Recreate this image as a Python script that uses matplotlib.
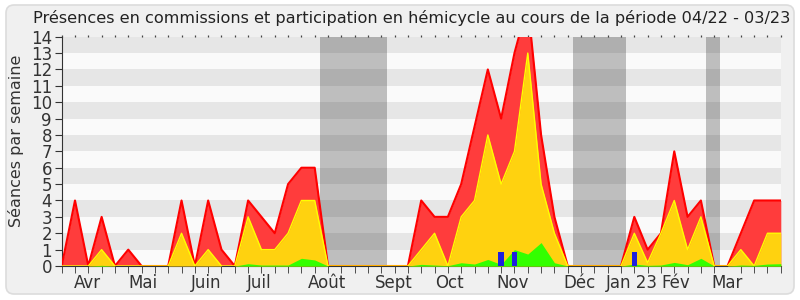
import matplotlib
matplotlib.use("Agg")
import matplotlib.pyplot as plt
from matplotlib.patches import FancyBboxPatch
import numpy as np

# semaines d'avril 2022 à mars 2023
weeks = np.arange(55)

presence_commission = [0, 4, 0, 3, 0, 1, 0, 0, 0, 4, 0, 4, 1, 0, 4, 3, 2, 5, 6, 6,
                       0, 0, 0, 0, 0, 0, 0, 4, 3, 3, 5, 8.5, 12, 9, 13, 16, 8, 3, 0, 0,
                       0, 0, 0, 3, 1, 2, 7, 3, 4, 0, 0, 2, 4, 4, 4]
participation_commission = [0, 0, 0, 1, 0, 0, 0, 0, 0, 2, 0, 1, 0, 0, 3, 1, 1, 2, 4, 4,
                            0, 0, 0, 0, 0, 0, 0, 1, 2, 0, 3, 4, 8, 5, 7, 13, 5, 2, 0, 0,
                            0, 0, 0, 2, 0.2, 2, 4, 1, 3, 0, 0, 1, 0, 2, 2]
participation_hemicycle = [0, 0, 0, 0.04, 0, 0, 0, 0, 0, 0, 0, 0, 0, 0, 0.14, 0.06, 0.06, 0.06, 0.47, 0.37,
                           0, 0, 0, 0, 0, 0, 0, 0.1, 0.06, 0.02, 0.2, 0.12, 0.4, 0.1, 1.0, 0.73, 1.43, 0.2, 0, 0,
                           0, 0, 0, 0.12, 0.04, 0.06, 0.22, 0.08, 0.47, 0, 0, 0.06, 0.04, 0.12, 0.14]
questions_weeks = [33, 34, 43]
questions = [0.87, 0.87, 0.87]

# vacances parlementaires (en semaines)
vacances = [(19.4, 24.45), (38.4, 42.4), (48.35, 49.45)]

month_pos = [1.95, 6.08, 10.88, 14.8, 19.92, 24.9, 29.08, 33.85, 38.9, 42.8, 46.1, 50.0]
month_labels = ['Avr', 'Mai', 'Juin', 'Juil', 'Août', 'Sept', 'Oct', 'Nov', 'Déc', 'Jan 23', 'Fév', 'Mar']

plt.rcParams['font.family'] = ['DejaVu Sans']

fig = plt.figure(figsize=(8, 3), dpi=100)
fig.patch.set_facecolor('white')
frame = FancyBboxPatch((0.06, 0.06), 7.88, 2.89, boxstyle='round,pad=0,rounding_size=0.08',
                       transform=fig.dpi_scale_trans, facecolor='#f0f0f0', edgecolor='#dcdcdc',
                       linewidth=1.2, zorder=-5)
fig.patches.append(frame)

ax = fig.add_axes([0.0771, 0.1133, 0.8989, 0.7644])
ax.set_zorder(2)
ax.set_facecolor('none')

# bandes horizontales
for i in range(14):
    ax.axhspan(i, i + 1, color='#e6e6e6' if i % 2 == 1 else '#fafafa', zorder=0, lw=0)

for a, b in vacances:
    ax.axvspan(a, b, color='black', alpha=0.24, lw=0, zorder=1)

ax.fill_between(weeks, presence_commission, color='#ff3c3c', lw=0, zorder=2)
ax.plot(weeks, presence_commission, color='#ff0000', lw=1.5, zorder=3)
ax.fill_between(weeks, participation_commission, color='#ffd20f', lw=0, zorder=4)
ax.plot(weeks, participation_commission, color='#ffff00', lw=1, zorder=5)
ax.fill_between(weeks, participation_hemicycle, color='#33ff00', lw=0, zorder=6)
ax.bar(questions_weeks, questions, width=0.4, color='#2020dd', zorder=7)

ax.set_xlim(0, 54)
ax.set_ylim(0, 14)
ax.set_yticks(range(15))
ax.tick_params(axis='y', labelsize=12, length=5, pad=2, colors='#333333')

ax.set_xticks(month_pos)
ax.set_xticklabels(month_labels)
ax.set_xticks(weeks, minor=True)
ax.tick_params(axis='x', which='major', length=0, labelsize=12, pad=6, colors='#333333')
ax.tick_params(axis='x', which='minor', length=5, color='#333333', direction='out')

# petits repères en haut
top = ax.secondary_xaxis('top')
top.set_xticks(weeks)
top.tick_params(length=1.5, width=0.9, color='#444444', labeltop=False)
top.spines['top'].set_visible(False)

for s in ['top', 'right']:
    ax.spines[s].set_visible(False)
ax.spines['left'].set_color('#333333')
ax.spines['bottom'].set_color('#333333')

ax.set_ylabel('Séances par semaine', fontsize=11.5, color='#333333')
ax.yaxis.set_label_coords(-0.052, 0.545)
fig.text(0.515, 0.94, 'Présences en commissions et participation en hémicycle au cours de la période 04/22 - 03/23',
         ha='center', va='center', fontsize=11.6, color='#222222')

fig.savefig('out.png', dpi=100)
